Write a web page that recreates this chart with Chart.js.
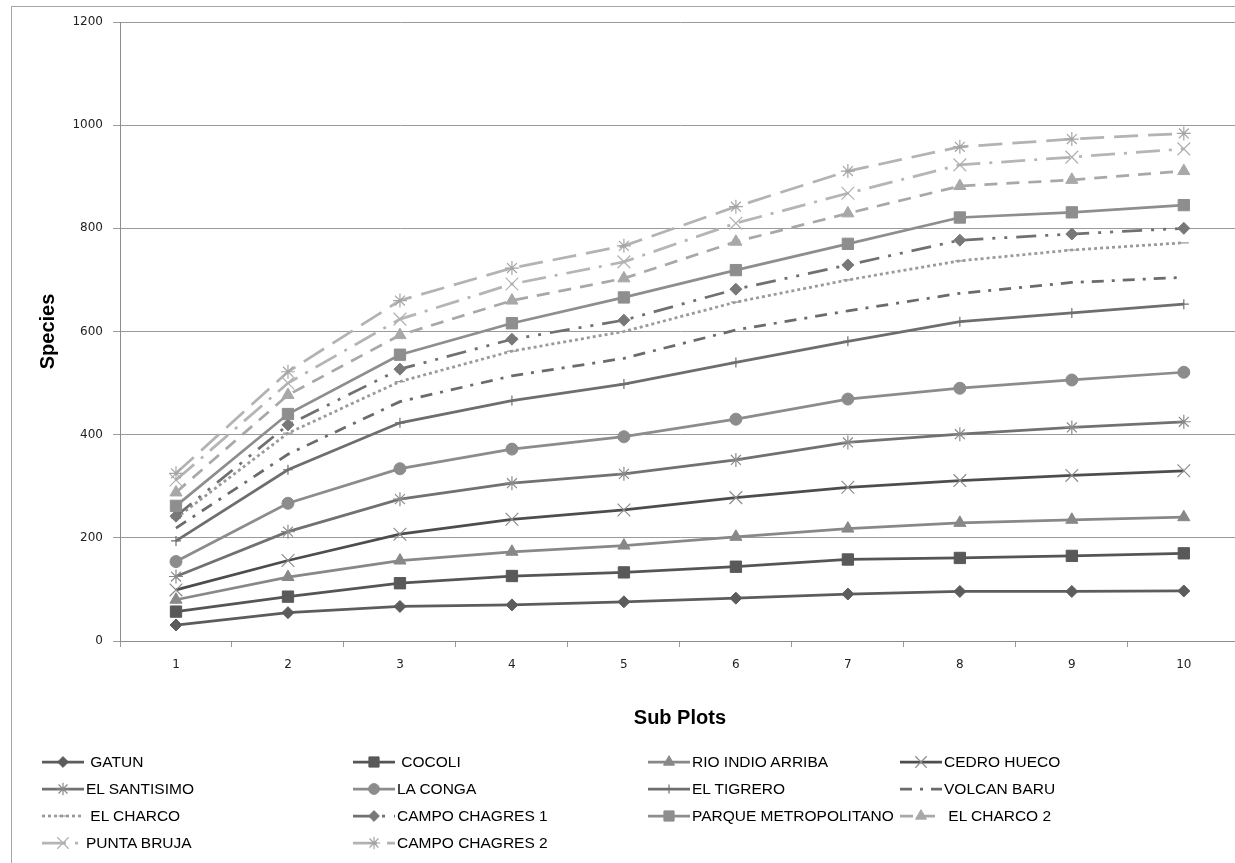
<!DOCTYPE html>
<html>
<head>
<meta charset="utf-8">
<script src="https://cdn.jsdelivr.net/npm/chart.js@4.4.1/dist/chart.umd.min.js"></script>
<style>
  body { margin: 0; background: #fff; overflow: hidden; }
  #wrap { position: relative; width: 1235px; height: 863px; overflow: hidden; }
  #frame { position: absolute; left: 11px; top: 6px; width: 1300px; height: 900px;
           border-left: 1px solid #a6a6a6; border-top: 1px solid #a6a6a6; }
  #chart { position: absolute; left: 0; top: 0; }
  .lg { position: absolute; height: 20px; display: flex; align-items: center;
        font: 15.5px "Liberation Sans", Arial, sans-serif; color: #000; white-space: pre; }
  .lg canvas { margin-right: 2px; }
</style>
</head>
<body>
<div id="wrap">
  <div id="frame"></div>
  <canvas id="chart" width="1250" height="863"></canvas>
  <div id="legend"></div>
</div>
<script>
// x categories and y tick values
const subPlots = ['1', '2', '3', '4', '5', '6', '7', '8', '9', '10'];
const speciesTicks = [0, 200, 400, 600, 800, 1000, 1200];

// accumulated species per site
const gatun          = [31, 55, 67, 70, 76, 83, 91, 96, 96, 97];
const cocoli         = [57, 86, 112, 126, 133, 144, 158, 161, 165, 170];
const rioIndioArriba = [80, 124, 156, 173, 185, 202, 218, 229, 235, 240];
const cedroHueco     = [99, 156, 207, 236, 254, 278, 298, 311, 321, 330];
const elSantisimo    = [125, 212, 275, 306, 324, 351, 385, 401, 414, 425];
const laConga        = [154, 267, 334, 372, 396, 430, 469, 490, 506, 521];
const elTigrero      = [194, 332, 423, 466, 498, 540, 581, 619, 636, 653];
const volcanBaru     = [219, 362, 464, 514, 548, 603, 640, 674, 695, 705];
const elCharco       = [238, 403, 503, 562, 600, 657, 700, 737, 758, 772];
const campoChagres1  = [242, 419, 527, 585, 622, 682, 729, 777, 789, 800];
const parqueMetro    = [262, 440, 555, 616, 666, 719, 770, 821, 831, 845];
const elCharco2      = [288, 477, 593, 660, 703, 774, 829, 882, 894, 911];
const puntaBruja     = [312, 500, 624, 692, 735, 810, 868, 923, 938, 954];
const campoChagres2  = [325, 522, 660, 723, 766, 842, 911, 958, 973, 984];

// label, data, line colour, marker colour, marker, radius, dash
const series = [
  [' GATUN', gatun, '#5c5c5c', '#5c5c5c', 'rectRot', 6, []],
  [' COCOLI', cocoli, '#555555', '#595959', 'rect', 8, []],
  ['RIO INDIO ARRIBA', rioIndioArriba, '#888888', '#888888', 'triangle', 7, []],
  ['CEDRO HUECO', cedroHueco, '#4d4d4d', '#8c8c8c', 'crossRot', 9, []],
  ['EL SANTISIMO', elSantisimo, '#717171', '#8a8a8a', 'star', 7, []],
  ['LA CONGA', laConga, '#8c8c8c', '#8c8c8c', 'circle', 6, []],
  ['EL TIGRERO', elTigrero, '#6e6e6e', '#6e6e6e', 'cross', 5, []],
  ['VOLCAN BARU', volcanBaru, '#6b6b6b', '#6b6b6b', false, 0, [12, 8, 3, 8]],
  [' EL CHARCO', elCharco, '#9a9a9a', '#9a9a9a', 'line', 5, [3, 3]],
  ['CAMPO CHAGRES 1', campoChagres1, '#707070', '#787878', 'rectRot', 6, [20, 9, 3, 9, 3, 9]],
  ['PARQUE METROPOLITANO', parqueMetro, '#8e8e8e', '#8e8e8e', 'rect', 8, []],
  [' EL CHARCO 2', elCharco2, '#a8a8a8', '#a8a8a8', 'triangle', 7, [13, 9]],
  ['PUNTA BRUJA', puntaBruja, '#b5b5b5', '#b0b0b0', 'crossRot', 9, [24, 9, 3, 9]],
  ['CAMPO CHAGRES 2', campoChagres2, '#b3b3b3', '#a5a5a5', 'star', 7, [24, 10]],
];

const thin = (s) => s === 'crossRot' || s === 'star' || s === 'cross' || s === 'line';

const datasets = series.map(([label, data, line, mark, style, r, dash], i) => ({
  label, data,
  borderColor: line, backgroundColor: mark,
  borderWidth: 2.75, borderDash: dash, tension: 0,
  pointStyle: style, pointRadius: style ? r : 0,
  pointBackgroundColor: mark, pointBorderColor: mark,
  pointBorderWidth: thin(style) ? 1.2 : 1,
  order: series.length - i,
}));

new Chart(document.getElementById('chart'), {
  type: 'line',
  data: { labels: subPlots, datasets },
  options: {
    responsive: false,
    animation: false,
    devicePixelRatio: 1,
    layout: { padding: { left: 0, right: 2, top: 22, bottom: 122 } },
    plugins: { legend: { display: false }, tooltip: { enabled: false } },
    scales: {
      x: {
        offset: true,
        grid: { drawOnChartArea: false, drawTicks: true, tickLength: 6, color: '#9a9a9a', offset: true },
        border: { color: '#8c8c8c' },
        ticks: { font: { family: 'DejaVu Sans', size: 12 }, color: '#222', padding: 11, maxRotation: 0 },
        title: { display: true, text: 'Sub Plots', color: '#000',
                 font: { family: 'Liberation Sans', size: 20, weight: 'bold' }, padding: { top: 0, bottom: 11 } },
        afterFit: (s) => { s.height = 100; },
      },
      y: {
        min: speciesTicks[0],
        max: speciesTicks[speciesTicks.length - 1],
        afterBuildTicks: (s) => { s.ticks = speciesTicks.map((v) => ({ value: v })); },
        ticks: { callback: (v) => String(v), font: { family: 'DejaVu Sans', size: 12 }, color: '#222', padding: 10 },
        grid: { color: '#9a9a9a', tickLength: 7 },
        border: { color: '#8c8c8c' },
        title: { display: true, text: 'Species', color: '#000',
                 font: { family: 'Liberation Sans', size: 20, weight: 'bold' }, padding: { top: 36, bottom: 0 } },
        afterFit: (s) => { s.width = 120; },
      },
    },
  },
});

// legend, four columns like the spreadsheet
const colX = [42, 353, 648, 900];
const rowY = [762, 789, 816, 843];
const legend = document.getElementById('legend');
datasets.forEach((d, i) => {
  const item = document.createElement('div');
  item.className = 'lg';
  item.style.left = colX[i % 4] + 'px';
  item.style.top = (rowY[Math.floor(i / 4)] - 10) + 'px';
  const c = document.createElement('canvas');
  c.width = 42; c.height = 18;
  const ctx = c.getContext('2d');
  ctx.strokeStyle = d.borderColor;
  ctx.lineWidth = d.borderWidth;
  ctx.setLineDash(d.borderDash);
  ctx.beginPath(); ctx.moveTo(0, 9); ctx.lineTo(42, 9); ctx.stroke();
  ctx.setLineDash([]);
  if (d.pointStyle && Chart.helpers && Chart.helpers.drawPoint) {
    ctx.fillStyle = d.pointBackgroundColor;
    ctx.strokeStyle = d.pointBorderColor;
    ctx.lineWidth = d.pointBorderWidth;
    Chart.helpers.drawPoint(ctx, { pointStyle: d.pointStyle, radius: d.pointRadius * 0.9, rotation: 0, borderWidth: d.pointBorderWidth }, 21, 9);
  }
  item.appendChild(c);
  const t = document.createElement('span');
  t.textContent = d.label;
  item.appendChild(t);
  legend.appendChild(item);
});
</script>
</body>
</html>
